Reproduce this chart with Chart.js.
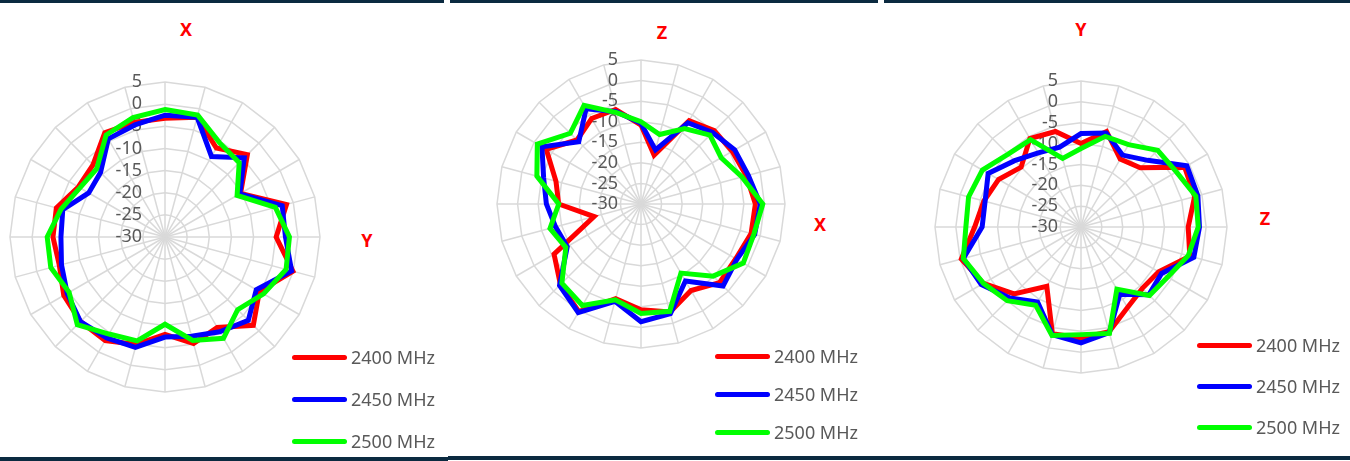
<!DOCTYPE html>
<html><head><meta charset="utf-8">
<script src="https://cdn.jsdelivr.net/npm/chart.js@4"></script>
<style>
html,body{margin:0;padding:0;background:#fff;}
body{width:1350px;height:461px;overflow:hidden;position:relative;font-family:"Noto Sans",sans-serif;}
canvas{position:absolute;}
.bar{position:absolute;background:#0b2a40;}
.t{position:absolute;color:#ff0000;font-weight:bold;font-size:18px;line-height:18px;transform:translate(-50%,-50%);}
.lg{position:absolute;display:flex;align-items:center;height:20px;transform:translateY(-50%);font-size:18px;color:#595959;white-space:nowrap;}
.sw{width:55px;height:5px;border-radius:3px;margin-right:4px;}
</style></head>
<body>
<div class="bar" style="left:0;top:0;width:444px;height:3px"></div>
<div class="bar" style="left:450px;top:0;width:428px;height:3px"></div>
<div class="bar" style="left:884px;top:0;width:466px;height:3px"></div>
<div class="bar" style="left:0;top:457px;width:448px;height:4px"></div>
<div class="bar" style="left:448px;top:456px;width:902px;height:4px"></div>

<canvas id="c1" width="326" height="326" style="left:2px;top:74px"></canvas>
<canvas id="c2" width="304" height="304" style="left:489px;top:52px"></canvas>
<canvas id="c3" width="308" height="308" style="left:927px;top:73px"></canvas>

<div id="labels"></div>

<script>
// ---------- data ----------
const categories = ['0°','15°','30°','45°','60°','75°','90°','105°','120°','135°','150°','165°',
                    '180°','195°','210°','225°','240°','255°','270°','285°','300°','315°','330°','345°'];
const tickValues = [-30,-25,-20,-15,-10,-5,0,5];
const seriesNames = ['2400 MHz','2450 MHz','2500 MHz'];
const panelTitles = ['X','Z','Y'];
const panelSideLabels = ['Y','X','Z'];

// Panel 1 (X / Y)
const p1_2400 = [-3.2,-2,-6.8,-3.7,-10.3,-1.6,-4.9,-0.1,-5.4,-1.8,-6.4,-5.1,-8,-4.9,-3,-3,-3.6,-5.3,-4.7,-4.6,-7.4,-7,-2.8,-3.2];
const p1_2450 = [-2.5,-2,-9,-4.7,-10.5,-2.6,-2.8,-0.4,-6.2,-3.4,-5.3,-6.8,-7.4,-4.2,-3.7,-3,-4.5,-5.8,-6.5,-6.1,-10.1,-9.4,-4.4,-3.8];
const p1_2500 = [-1.2,-1.5,-5.4,-6.3,-11.2,-4.2,-1.9,-1.7,-4.3,-6.8,-3.6,-5.8,-10.3,-5.7,-4.7,-2,-5,-3.3,-3.4,-5.7,-7.8,-8.2,-3.4,-2.1];

// Panel 2 (Z / X)
const p2_2400 = [-10.8,-17.7,-6.6,-4.8,-4.4,-3.5,-2.2,-2.3,-3.4,-3,-5.7,-2.8,-4.3,-6.2,0.2,-2.3,-5.6,-18.2,-10,-8.6,-3.4,-8,-6,-6.2];
const p2_2450 = [-10.4,-16.4,-7.2,-5.4,-3.7,-3,-1,-1.4,-3.1,-1.8,-8.4,-2.4,-1.4,-5.5,0.5,-2,-9.3,-8.5,-7,-5.5,-2.2,-8.6,-3.3,-6.8];
const p2_2500 = [-10,-12.5,-8.8,-6.3,-7.5,-4.6,-0.4,-1.6,-1.3,-5.2,-10.6,-3,-3.4,-5.9,-1.5,-2.8,-8.9,-7.1,-10,-3.8,-0.9,-5.7,-2.3,-7];

// Panel 3 (Y / Z)
const p3_2400 = [-10,-6.3,-11.2,-9.9,-1.3,-1.8,-4.3,-3,-8.5,-9.2,-7.7,-4,-3.4,-3.5,-13.6,-7.3,-3,-0.3,-4.5,-5.9,-7.2,-9.7,-5.5,-6.3];
const p3_2450 = [-7.6,-6.7,-10.1,-7.4,-0.7,-1,-1.6,-2,-7.7,-7,-11.4,-3.8,-2.2,-3.3,-9.2,-5.9,-2.4,-0.8,-6.3,-6.2,-4.3,-7.5,-9.5,-10.2];
const p3_2500 = [-11.2,-7.5,-7.2,-4,-3.6,-1.5,-1.9,-3.4,-6,-6.8,-12.8,-3.6,-4.2,-3.1,-8.3,-5,-3,-0.8,-2.4,-2.1,-2.7,-5.3,-5.8,-13];

// ---------- styling / layout ----------
const colors = ['#ff0000','#0000ff','#00ff00'];
const layout = [
  {title:[186,29], side:[367,240], legendX:292, legendY:[357,399,441]},
  {title:[662,32], side:[820,224], legendX:715, legendY:[356,394,432]},
  {title:[1081,29], side:[1265,218], legendX:1197, legendY:[345,386,427]}
];

const tickPlugin = {
  id: 'leftTicks',
  beforeDatasetsDraw(chart) {
    const s = chart.scales.r, ctx = chart.ctx;
    ctx.save();
    ctx.font = '18px "Noto Sans"';
    ctx.fillStyle = '#595959';
    ctx.textAlign = 'right';
    ctx.textBaseline = 'middle';
    s.ticks.forEach(t => {
      const d = s.getDistanceFromCenterForValue(t.value);
      ctx.fillText(String(t.value), s.xCenter - 23, s.yCenter - d);
    });
    ctx.restore();
  }
};

function makeChart(id, series) {
  new Chart(document.getElementById(id), {
    type: 'radar',
    data: {
      labels: categories,
      datasets: series.map((vals, k) => ({
        label: seriesNames[k],
        data: vals,
        borderColor: colors[k],
        backgroundColor: 'transparent',
        borderWidth: 5,
        pointRadius: 0,
        pointHoverRadius: 0,
        fill: false,
        tension: 0,
        order: 3 - k
      }))
    },
    options: {
      responsive: false,
      animation: false,
      devicePixelRatio: 1,
      layout: {padding: 8},
      plugins: {legend: {display: false}, title: {display: false}, tooltip: {enabled: false}},
      scales: {
        r: {
          min: tickValues[0],
          max: tickValues[tickValues.length - 1],
          afterBuildTicks(scale) { scale.ticks = tickValues.map(v => ({value: v})); },
          ticks: {display: false, stepSize: 5},
          pointLabels: {display: false},
          grid: {color: '#d9d9d9', lineWidth: 1.5, circular: false},
          angleLines: {color: '#d9d9d9', lineWidth: 1.5}
        }
      }
    },
    plugins: [tickPlugin]
  });
}

makeChart('c1', [p1_2400, p1_2450, p1_2500]);
makeChart('c2', [p2_2400, p2_2450, p2_2500]);
makeChart('c3', [p3_2400, p3_2450, p3_2500]);

// titles, side labels, legends
const host = document.getElementById('labels');
layout.forEach((L, p) => {
  const t = document.createElement('div');
  t.className = 't'; t.textContent = panelTitles[p];
  t.style.left = L.title[0] + 'px'; t.style.top = L.title[1] + 'px';
  host.appendChild(t);
  const s = document.createElement('div');
  s.className = 't'; s.textContent = panelSideLabels[p];
  s.style.left = L.side[0] + 'px'; s.style.top = L.side[1] + 'px';
  host.appendChild(s);
  seriesNames.forEach((n, k) => {
    const e = document.createElement('div');
    e.className = 'lg';
    e.style.left = L.legendX + 'px'; e.style.top = L.legendY[k] + 'px';
    const sw = document.createElement('span');
    sw.className = 'sw'; sw.style.background = colors[k];
    const tx = document.createElement('span'); tx.textContent = n;
    e.appendChild(sw); e.appendChild(tx);
    host.appendChild(e);
  });
});
</script>
</body></html>
